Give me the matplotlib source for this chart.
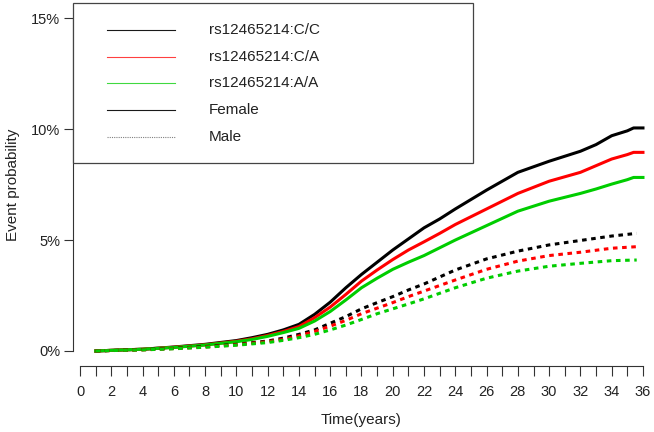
import matplotlib

matplotlib.use("Agg")
import matplotlib.pyplot as plt
from matplotlib.lines import Line2D
from matplotlib.patches import Rectangle

plt.rcParams["font.family"] = ["Liberation Sans", "DejaVu Sans"]

# cumulative event probability (%)
time_solid = [1, 2, 4, 6, 8, 10, 11, 12, 13, 14, 15, 16, 17, 18, 19, 20, 21, 22, 23, 24,
              26, 28, 30, 32, 33, 34, 35, 35.4, 36]
female_cc = [0, 0.03, 0.08, 0.18, 0.30, 0.47, 0.60, 0.75, 0.95, 1.20, 1.65, 2.20, 2.85, 3.45,
             4.00, 4.55, 5.05, 5.55, 5.95, 6.40, 7.25, 8.05, 8.55, 9.00, 9.30, 9.70, 9.92,
             10.05, 10.05]
female_ca = [0, 0.03, 0.08, 0.17, 0.28, 0.44, 0.55, 0.70, 0.88, 1.10, 1.50, 1.98, 2.55, 3.15,
             3.65, 4.12, 4.55, 4.92, 5.30, 5.70, 6.40, 7.10, 7.65, 8.05, 8.35, 8.65, 8.85,
             8.95, 8.95]
female_aa = [0, 0.03, 0.08, 0.16, 0.27, 0.42, 0.52, 0.66, 0.83, 1.02, 1.35, 1.78, 2.30, 2.85,
             3.28, 3.68, 4.00, 4.30, 4.65, 5.00, 5.65, 6.30, 6.75, 7.10, 7.30, 7.52, 7.72,
             7.82, 7.82]

time_dash = [1, 2, 4, 6, 8, 10, 12, 13, 14, 15, 16, 17, 18, 19, 20, 21, 22, 24, 26, 28, 30,
             32, 34, 35.6]
male_cc = [0, 0.02, 0.06, 0.12, 0.20, 0.30, 0.45, 0.58, 0.75, 0.95, 1.25, 1.55, 1.90, 2.18,
           2.45, 2.75, 3.02, 3.65, 4.15, 4.50, 4.78, 4.98, 5.18, 5.30]
male_ca = [0, 0.02, 0.05, 0.11, 0.18, 0.28, 0.42, 0.52, 0.68, 0.88, 1.12, 1.38, 1.68, 1.93,
           2.18, 2.45, 2.70, 3.20, 3.68, 4.05, 4.30, 4.45, 4.63, 4.70]
male_aa = [0, 0.02, 0.05, 0.10, 0.17, 0.26, 0.38, 0.48, 0.60, 0.75, 0.95, 1.17, 1.42, 1.68,
           1.90, 2.12, 2.35, 2.85, 3.28, 3.60, 3.82, 3.95, 4.07, 4.10]

legend_labels = ["rs12465214:C/C", "rs12465214:C/A", "rs12465214:A/A", "Female", "Male"]
y_ticks = [0, 5, 10, 15]
x_ticks = list(range(0, 37))

BLACK = "#000000"
RED = "#ff0000"
GREEN = "#00cd00"
DOTS = (0, (1.5, 1.5))

fig = plt.figure(figsize=(6.54, 4.32), dpi=100)
ax = fig.add_axes([73 / 654, 66 / 432, 577 / 654, 363 / 432])

for y, color in zip([female_cc, female_ca, female_aa], [BLACK, RED, GREEN]):
    ax.plot(time_solid, y, color=color, lw=2.2)
for y, color in zip([male_cc, male_ca, male_aa], [BLACK, RED, GREEN]):
    ax.plot(time_dash, y, color=color, lw=2.2, linestyle=DOTS)

ax.set_xlim(-0.45, 36.45)
ax.set_ylim(-0.676, 15.68)

for side in ["top", "right"]:
    ax.spines[side].set_visible(False)
ax.spines["left"].set_bounds(0, 15)
ax.spines["bottom"].set_bounds(0, 36)
for side in ["left", "bottom"]:
    ax.spines[side].set_color("#333333")
    ax.spines[side].set_linewidth(0.8)

ax.set_yticks(y_ticks)
ax.set_yticklabels([f"{v}%" for v in y_ticks])
ax.set_xticks(x_ticks)
ax.set_xticklabels([str(v) if v % 2 == 0 else "" for v in x_ticks])
ax.tick_params(axis="y", length=6.5, width=0.8, color="#333333", pad=2.5, labelsize=10.5,
               labelcolor="#222222")
ax.tick_params(axis="x", length=7, width=0.8, color="#333333", pad=7, labelsize=10.5,
               labelcolor="#222222")
ax.set_xlabel("Time(years)", fontsize=11, color="#222222", labelpad=10)
ax.set_ylabel("Event probability", fontsize=11, color="#222222", labelpad=8)

# legend drawn as in the R base-graphics original
ax.add_patch(Rectangle((0, 0.559), 0.693, 0.441, transform=ax.transAxes, fill=True,
                       facecolor="white", edgecolor="#444444", lw=0.9, clip_on=False, zorder=5))
legend_styles = [(BLACK, "-"), (RED, "-"), (GREEN, "-"), (BLACK, "-"), ("#555555", (0, (1, 1)))]
for i, (label, (color, ls)) in enumerate(zip(legend_labels, legend_styles)):
    yy = 0.926 - i * 0.0737
    ax.add_line(Line2D([0.059, 0.177], [yy, yy], transform=ax.transAxes, color=color, lw=0.8,
                       linestyle=ls, alpha=0.75 if color != BLACK else 0.9, zorder=6))
    ax.text(0.236, yy, label, transform=ax.transAxes, fontsize=11, va="center", ha="left",
            color="#222222", zorder=6)

fig.savefig("out.png", dpi=100)
